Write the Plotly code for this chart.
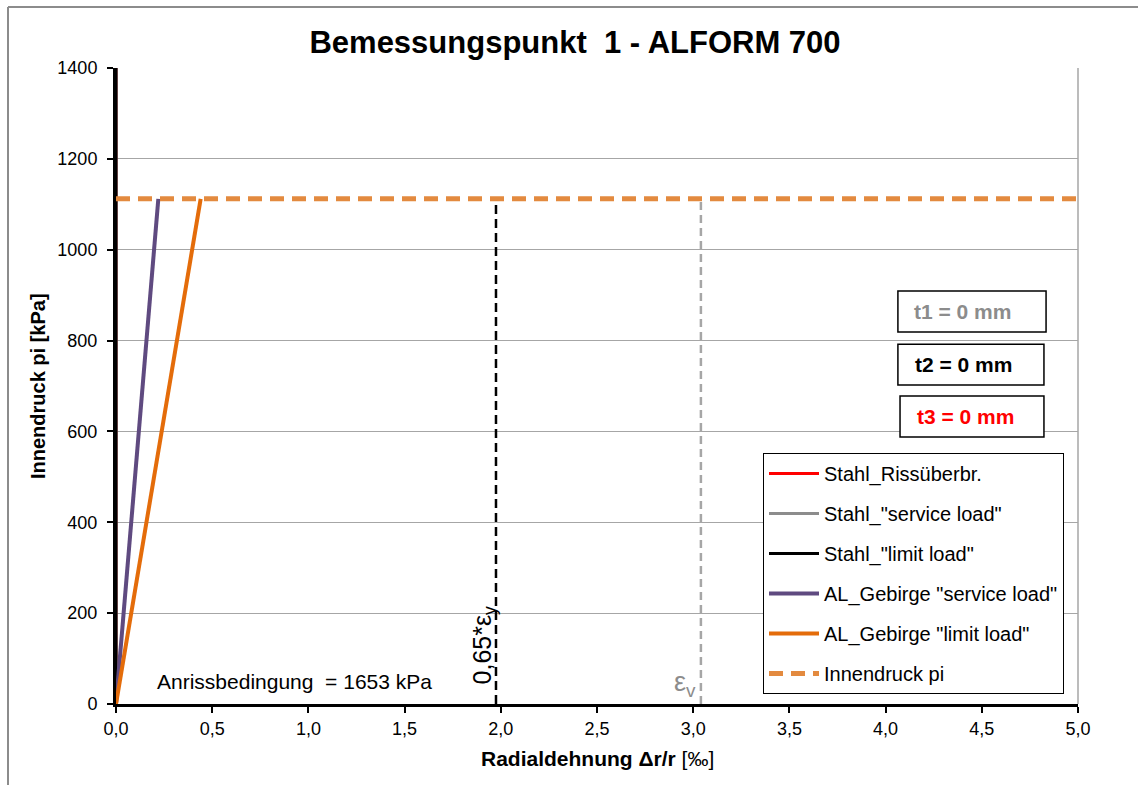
import plotly.graph_objects as go

# Strain (per mille) and pressure (kPa) data
stahl_strain = [0.0, 0.0]
stahl_pressure = [0.0, 1400.0]

al_service_strain = [0.0, 0.22]
al_service_pressure = [0.0, 1112.0]

al_limit_strain = [0.0, 0.44]
al_limit_pressure = [0.0, 1112.0]

innendruck_strain = [0.0, 5.0]
innendruck_pressure = [1112.0, 1112.0]

eps_y65_strain = [1.975, 1.975]
eps_v_strain = [3.04, 3.04]
marker_pressure = [0.0, 1112.0]

anriss_kpa = 1653
thicknesses = {"t1": 0, "t2": 0, "t3": 0}

x_ticks = [0.0, 0.5, 1.0, 1.5, 2.0, 2.5, 3.0, 3.5, 4.0, 4.5, 5.0]
y_ticks = [0, 200, 400, 600, 800, 1000, 1200, 1400]

FONT = "Arial, Liberation Sans, sans-serif"
NARROW = "Liberation Sans Narrow, Arial Narrow, Arial, Liberation Sans, sans-serif"

fig = go.Figure()

# steel curves (t = 0 mm -> on the ordinate)
fig.add_trace(go.Scatter(x=stahl_strain, y=stahl_pressure, mode="lines",
                         line=dict(color="#FF0000", width=3),
                         name="Stahl_Rissüberbr.", legendgroup="a"))
fig.add_trace(go.Scatter(x=stahl_strain, y=stahl_pressure, mode="lines",
                         line=dict(color="#8C8C8C", width=3),
                         name='Stahl_"service load"', legendgroup="b"))
fig.add_trace(go.Scatter(x=stahl_strain, y=stahl_pressure, mode="lines",
                         line=dict(color="#000000", width=3),
                         name='Stahl_"limit load"', legendgroup="c"))

# rock reaction lines
fig.add_trace(go.Scatter(x=al_service_strain, y=al_service_pressure, mode="lines",
                         line=dict(color="#5F4A80", width=4),
                         name='AL_Gebirge "service load"', legendgroup="d"))
fig.add_trace(go.Scatter(x=al_limit_strain, y=al_limit_pressure, mode="lines",
                         line=dict(color="#E46C0A", width=4),
                         name='AL_Gebirge "limit load"', legendgroup="e"))

# vertical strain limits
fig.add_trace(go.Scatter(x=eps_y65_strain, y=marker_pressure, mode="lines",
                         line=dict(color="#000000", width=2.5, dash="9px,5px"),
                         showlegend=False, hoverinfo="skip"))
fig.add_trace(go.Scatter(x=eps_v_strain, y=marker_pressure, mode="lines",
                         line=dict(color="#A6A6A6", width=2.5, dash="8px,5px"),
                         showlegend=False, hoverinfo="skip"))

# internal pressure
fig.add_trace(go.Scatter(x=innendruck_strain, y=innendruck_pressure, mode="lines",
                         line=dict(color="#E38A3F", width=5, dash="14px,8px"),
                         name="Innendruck pi", legendgroup="f"))

annotations = [
    dict(x=0.203, y=50, xref="x", yref="y", xanchor="left", yanchor="middle",
         text=f"Anrissbedingung  = {anriss_kpa} kPa", showarrow=False,
         font=dict(family=FONT, size=21, color="#000000")),
    dict(x=1.91, y=130, xref="x", yref="y", xanchor="center", yanchor="middle",
         text="0,65*ε<sub>y</sub>", textangle=-90, showarrow=False,
         font=dict(family=FONT, size=25, color="#000000")),
    dict(x=2.955, y=44, xref="x", yref="y", xanchor="center", yanchor="middle",
         text="ε<sub>v</sub>", showarrow=False,
         font=dict(family=FONT, size=27, color="#8C8C8C")),
    # axis titles
    dict(x=(38 - 116) / 962, y=0.5, xref="paper", yref="paper",
         text="<b>Innendruck pi [kPa]</b>",
         textangle=-90, showarrow=False, xanchor="center", yanchor="middle",
         font=dict(family=FONT, size=20, color="#000000")),
    dict(x=0.5, y=-0.085, xref="paper", yref="paper",
         text="<b>Radialdehnung Δr/r</b> [‰]", showarrow=False,
         xanchor="center", yanchor="middle",
         font=dict(family=NARROW, size=21, color="#000000")),
]

shapes = [
    # outer chart frame (left and top edges)
    dict(type="line", xref="paper", yref="paper",
         x0=(8 - 116) / 962, x1=(8 - 116) / 962, y0=(704 - 7) / 636, y1=-0.2,
         line=dict(color="#8C8C8C", width=2)),
    dict(type="line", xref="paper", yref="paper",
         x0=(8 - 116) / 962, x1=1.1, y0=(704 - 7) / 636, y1=(704 - 7) / 636,
         line=dict(color="#8C8C8C", width=2)),
    # right edge of the plot area
    dict(type="line", xref="paper", yref="paper", x0=1, x1=1, y0=0, y1=1,
         line=dict(color="#A6A6A6", width=1.5), layer="below"),
]

# thickness boxes: (key, text colour, x0, x1, y0, y1, text x)
box_specs = [
    ("t1", "#8C8C8C", 4.064, 4.834, 819, 909, 4.135),
    ("t2", "#000000", 4.064, 4.823, 702, 792, 4.14),
    ("t3", "#FF0000", 4.075, 4.823, 588, 678, 4.155),
]
for key, col, x0, x1, y0, y1, tx in box_specs:
    shapes.append(dict(type="rect", xref="x", yref="y", x0=x0, x1=x1, y0=y0, y1=y1,
                       line=dict(color="#000000", width=1.5),
                       fillcolor="#FFFFFF", layer="above"))
    annotations.append(dict(
        x=tx, y=(y0 + y1) / 2, xref="x", yref="y", xanchor="left", yanchor="middle",
        text=f"<b>{key} = {thicknesses[key]} mm</b>", showarrow=False,
        font=dict(family=FONT, size=21, color=col)))

fig.update_layout(
    width=1138, height=785,
    margin=dict(l=116, r=60, t=68, b=81),
    paper_bgcolor="#FFFFFF", plot_bgcolor="#FFFFFF",
    separators=",.",
    title=dict(text="<b>Bemessungspunkt  1 - ALFORM 700</b>",
               x=575 / 1138, xref="container", xanchor="center",
               y=1 - 42 / 785, yref="container", yanchor="middle",
               font=dict(family=FONT, size=31, color="#000000")),
    showlegend=True,
    legend=dict(x=(763 - 116) / 962, y=(704 - 453) / 636,
                xanchor="left", yanchor="top",
                bordercolor="#000000", borderwidth=1, bgcolor="#FFFFFF",
                font=dict(family=FONT, size=20, color="#000000"),
                traceorder="grouped", tracegroupgap=11, itemwidth=50),
    annotations=annotations,
    shapes=shapes,
    xaxis=dict(range=[0, 5], tickvals=x_ticks, tickformat=".1f",
               showgrid=False, zeroline=False,
               showline=True, linecolor="#000000", linewidth=3,
               ticks="outside", ticklen=6, tickwidth=2, tickcolor="#000000",
               tickfont=dict(family=NARROW, size=18, color="#000000"),
               layer="above traces"),
    yaxis=dict(range=[0, 1400], tickvals=y_ticks, tickformat="d",
               showgrid=True, gridcolor="#A6A6A6", gridwidth=1,
               zeroline=False,
               showline=True, linecolor="#000000", linewidth=3,
               ticks="outside", ticklen=6, tickwidth=2, tickcolor="#000000",
               tickfont=dict(family=FONT, size=18, color="#000000"),
               ticklabelstandoff=6,
               layer="above traces"),
)

fig.write_html("out.html")
